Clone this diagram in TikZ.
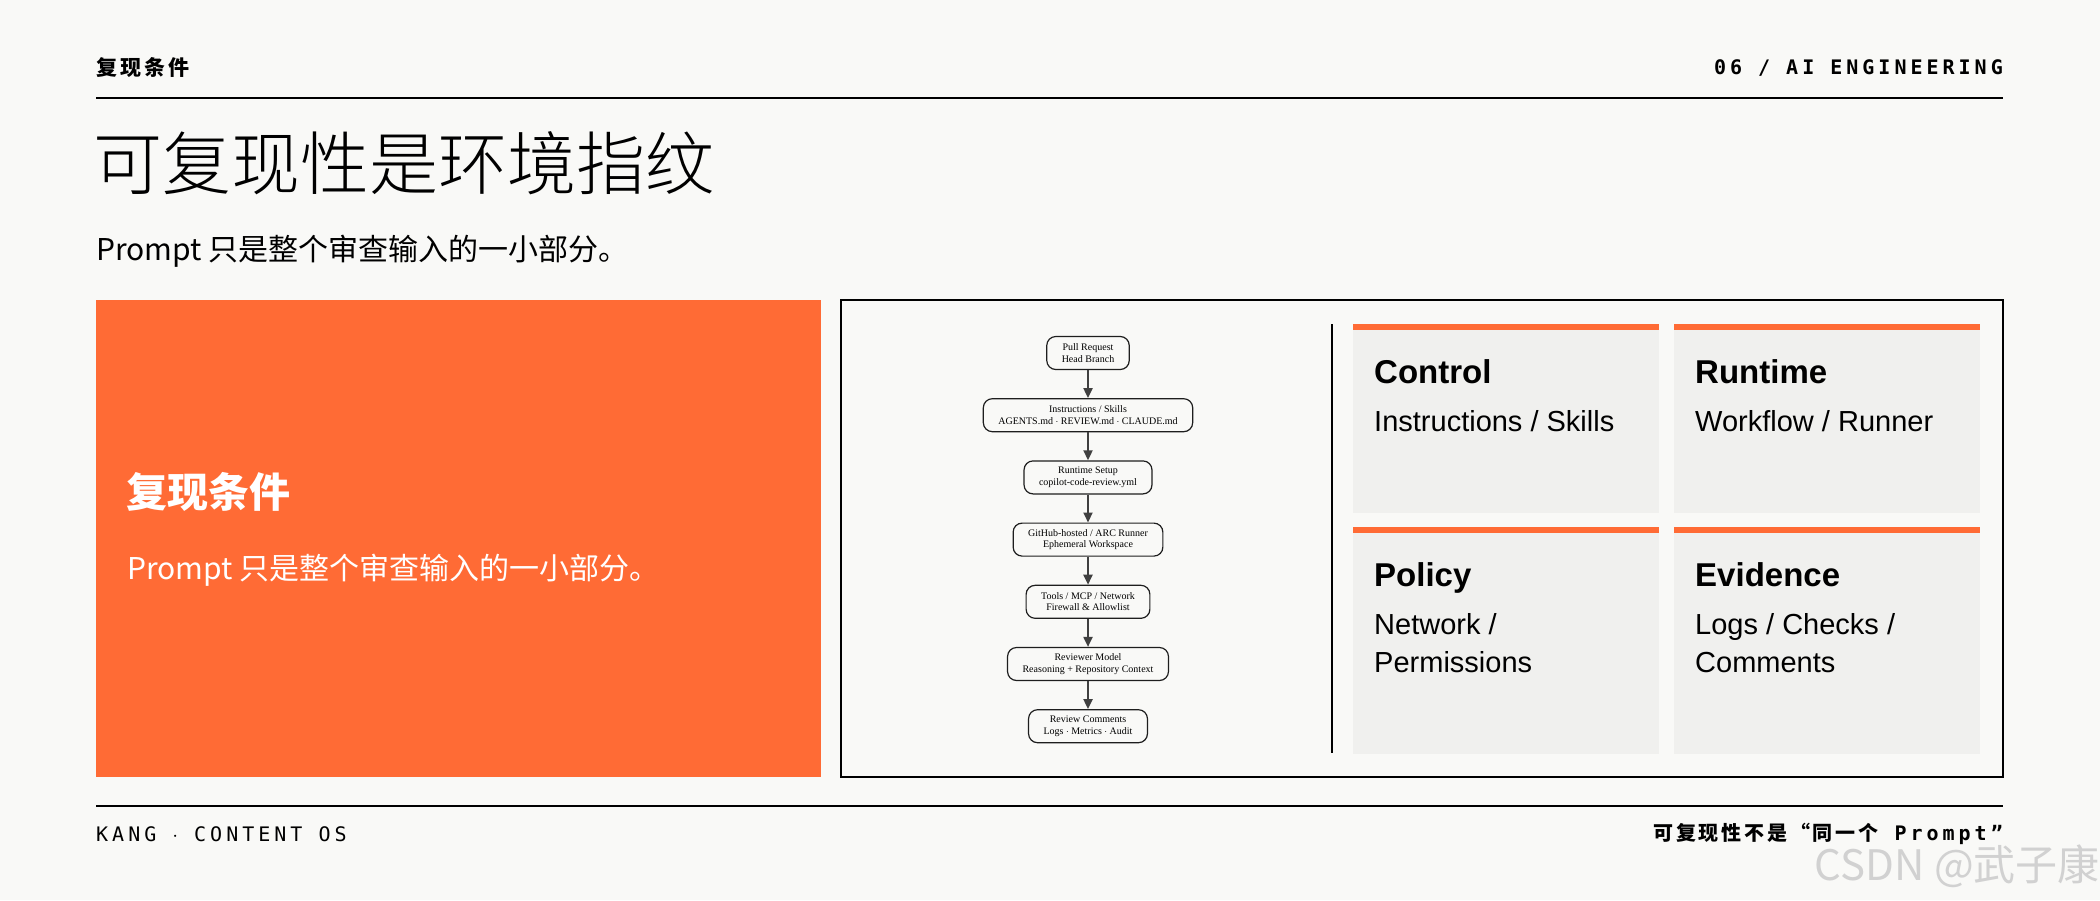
\documentclass[tikz,border=0pt]{standalone}
\usepackage{fontspec}
\newfontfamily\cjk{Noto Sans CJK SC}
\newfontfamily\cjklight{Noto Sans CJK SC Light}
\newfontfamily\cjkspaced[LetterSpace=14]{Noto Sans CJK SC}
\newfontfamily\cardfont{Liberation Sans}
\newfontfamily\tagmono[LetterSpace=20]{DejaVu Sans Mono}
\newfontfamily\chartfont{Liberation Serif}
\usetikzlibrary{arrows.meta}
\usetikzlibrary{positioning}
\definecolor{pagebg}{HTML}{F9F9F7}
\definecolor{accent}{HTML}{FF6B35}
\definecolor{cardbg}{HTML}{F0F0EE}
\definecolor{inkline}{HTML}{1E1E1E}
\tikzset{
    flowbox/.style={
        rectangle,
        rounded corners=9pt,
        draw=inkline,
        line width=1.2pt,
        align=center,
        inner xsep=15pt,
        minimum height=33pt,
        font=\chartfont\fontsize{10}{11.5}\selectfont
    },
    flowarrow/.style={
        -{Triangle[length=10pt,width=9pt]},
        draw=black!75,
        line width=2pt
    },
    cardtitle/.style={
        anchor=base west,
        inner sep=0pt,
        font=\cardfont\bfseries\fontsize{33}{38}\selectfont
    },
    cardtext/.style={
        anchor=base west,
        inner sep=0pt,
        align=left,
        font=\cardfont\fontsize{29}{38}\selectfont
    }
}

\begin{document}
\begin{tikzpicture}[x=1pt, y=-1pt]
    % Page
    \fill[pagebg] (0,0) rectangle (2100,900);
    \useasboundingbox (0,0) rectangle (2100,900);

    % Header
    \node[anchor=west, inner sep=0pt, font=\cjkspaced\bfseries\fontsize{21}{24}\selectfont] (section) at (96,68) {复现条件};
    \node[anchor=east, inner sep=0pt, font=\tagmono\bfseries\fontsize{20}{24}\selectfont] (chapter) at (2003,68) {06 / AI ENGINEERING};
    \draw[line width=2.4pt] (96,98) -- (2003,98);

    % Title and lead
    \node[anchor=west, inner sep=0pt, font=\cjklight\fontsize{69}{72}\selectfont] (title) at (93,163) {可复现性是环境指纹};
    \node[anchor=west, inner sep=0pt, font=\cjk\fontsize{30}{34}\selectfont] (lead) at (96,251) {Prompt 只是整个审查输入的一小部分。};

    % Orange panel
    \fill[accent] (96,300) rectangle (821,777);
    \node[anchor=west, inner sep=0pt, text=white, font=\cjk\bfseries\fontsize{41}{44}\selectfont] (paneltitle) at (126,492) {复现条件};
    \node[anchor=west, inner sep=0pt, text=white, font=\cjk\fontsize{30}{34}\selectfont] (paneltext) at (127,570) {Prompt 只是整个审查输入的一小部分。};

    % Right panel
    \draw[line width=2pt] (841,300) rectangle (2003,777);
    \draw[line width=2pt] (1332,324) -- (1332,753);

    % Flow of the review run
    \node[flowbox] (pr) at (1088,353) {Pull Request\\Head Branch};
    \node[flowbox, below=28pt of pr] (instr) {Instructions / Skills\\AGENTS.md $\cdot$ REVIEW.md $\cdot$ CLAUDE.md};
    \node[flowbox, below=28pt of instr] (setup) {Runtime Setup\\copilot-code-review.yml};
    \node[flowbox, below=28pt of setup] (runner) {GitHub-hosted / ARC Runner\\Ephemeral Workspace};
    \node[flowbox, below=28pt of runner] (tools) {Tools / MCP / Network\\Firewall \& Allowlist};
    \node[flowbox, below=28pt of tools] (model) {Reviewer Model\\Reasoning + Repository Context};
    \node[flowbox, below=28pt of model] (output) {Review Comments\\Logs $\cdot$ Metrics $\cdot$ Audit};

    \draw[flowarrow] (pr) -- (instr);
    \draw[flowarrow] (instr) -- (setup);
    \draw[flowarrow] (setup) -- (runner);
    \draw[flowarrow] (runner) -- (tools);
    \draw[flowarrow] (tools) -- (model);
    \draw[flowarrow] (model) -- (output);

    % Cards
    \fill[cardbg] (1353,324) rectangle (1659,513);
    \fill[accent] (1353,324) rectangle (1659,330);
    \fill[cardbg] (1674,324) rectangle (1980,513);
    \fill[accent] (1674,324) rectangle (1980,330);
    \fill[cardbg] (1353,527) rectangle (1659,754);
    \fill[accent] (1353,527) rectangle (1659,533);
    \fill[cardbg] (1674,527) rectangle (1980,754);
    \fill[accent] (1674,527) rectangle (1980,533);

    \node[cardtitle] (control) at (1374,383) {Control};
    \node[cardtext] (controltext) at (1374,431) {Instructions / Skills};
    \node[cardtitle] (runtime) at (1695,383) {Runtime};
    \node[cardtext] (runtimetext) at (1695,431) {Workflow / Runner};
    \node[cardtitle] (policy) at (1374,586) {Policy};
    \node[cardtext] (policytext) at (1374,672) {Network /\\Permissions};
    \node[cardtitle] (evidence) at (1695,586) {Evidence};
    \node[cardtext] (evidencetext) at (1695,672) {Logs / Checks /\\Comments};

    % Footer
    \draw[line width=2.4pt] (96,806) -- (2003,806);
    \node[anchor=west, inner sep=0pt, font=\tagmono\fontsize{20}{24}\selectfont] (brand) at (96,834) {KANG $\cdot$ CONTENT OS};
    \node[anchor=east, inner sep=0pt, font=\fontsize{20}{24}\selectfont] (motto) at (2003,834)
        {{\cjkspaced\bfseries 可复现性不是“同一个}{\tagmono\bfseries{} Prompt”}};
    \node[anchor=east, inner sep=0pt, text=black!18, font=\cjk\fontsize{42}{46}\selectfont] (watermark) at (2100,866) {CSDN @武子康};
\end{tikzpicture}
\end{document}
